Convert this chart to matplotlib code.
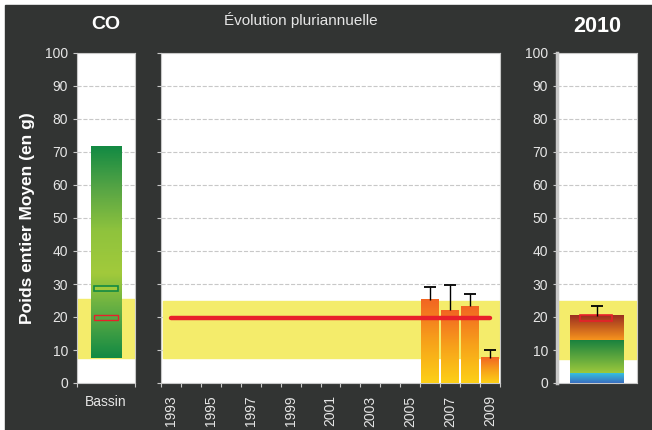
import numpy as np
import matplotlib.pyplot as plt
from matplotlib.colors import LinearSegmentedColormap
from matplotlib.patches import Rectangle

plt.rcParams['font.family'] = ['Liberation Sans', 'DejaVu Sans']

# donnees
annees = list(range(1993, 2010))
annees_bar = [2006, 2007, 2008, 2009]
moyenne = [25.2, 22.1, 23.3, 7.7]
err_haut = [29.0, 29.7, 26.9, 10.1]
ref_bassin = 19.7
bande = [7.5, 25.0]

bassin_min = 7.7
bassin_max = 71.8
bassin_vert = 28.7
bassin_rouge = 19.8

stack_2010 = [2.9, 10.1, 7.3]
err_2010 = 23.3
bande_2010 = [7.4, 24.8]

fond = '#323433'
txt = '#e6e6e6'
jaune = '#f4ec6b'


def grad_bar(ax, x, w, y0, y1, colors):
    cmap = LinearSegmentedColormap.from_list('g', colors)
    img = np.linspace(0, 1, 200).reshape(-1, 1)
    ax.imshow(img, cmap=cmap, extent=(x - w / 2, x + w / 2, y0, y1),
              origin='lower', aspect='auto', zorder=3, interpolation='bilinear')


def err_up(ax, xs, y0, y1):
    # seulement la moustache du haut
    ax.vlines(xs, y0, y1, color='black', lw=1, zorder=5)
    ax.plot(xs, y1, ls='none', marker='_', ms=8, mew=1.3, color='black', zorder=5)


def style(ax):
    ax.set_facecolor('white')
    ax.set_ylim(0, 100)
    ax.set_yticks(range(0, 101, 10))
    for v in range(10, 100, 10):
        ax.axhline(v, ls='--', color='#c8c8c8', lw=0.8, zorder=0)
    ax.tick_params(colors='#c8c8c8', labelcolor=txt, labelsize=10, length=3)
    for s in ax.spines.values():
        s.set_color('#c8c8c8')


fig = plt.figure(figsize=(6.52, 4.30), dpi=100, facecolor='white')
fig.patches.append(Rectangle((5 / 652, 0), 1, 1 - 5 / 430, transform=fig.transFigure,
                             color=fond, zorder=-10))

# panneau bassin
ax1 = fig.add_axes([77 / 652, 47 / 430, 58 / 652, 330 / 430])
style(ax1)
ax1.axhspan(bassin_min, 25.5, color=jaune, zorder=1)
grad_bar(ax1, 0, 0.52, bassin_min, bassin_max,
         ['#138a43', '#5aaa44', '#a2ca3b', '#8fc33d', '#57a545', '#138a43'])
ax1.add_patch(Rectangle((-0.2, bassin_vert - 0.8), 0.4, 1.6, fc='#a2ca3b', ec='#138a43', lw=1.2, zorder=4))
ax1.add_patch(Rectangle((-0.2, bassin_rouge - 0.8), 0.4, 1.6, fc='none', ec='#e8202a', lw=1, zorder=4))
ax1.set_xlim(-0.5, 0.5)
ax1.set_xticks([-0.5, 0.5])
ax1.set_xticklabels([])
ax1.set_xticks([0], minor=True)
ax1.set_xticklabels(['Bassin'], minor=True)
ax1.tick_params(axis='x', which='minor', length=0, pad=9, labelcolor=txt, labelsize=10)
ax1.set_ylabel('Poids entier Moyen (en g)', color='white', fontsize=12.5, fontweight='bold', labelpad=7)
ax1.set_title('CO', color='white', fontsize=14, fontweight='bold', pad=17)

# evolution pluriannuelle
ax2 = fig.add_axes([161 / 652, 47 / 430, 339 / 652, 330 / 430])
style(ax2)
ax2.axhspan(bande[0], bande[1], xmin=0.005, color=jaune, zorder=1)
idx = [annees.index(a) for a in annees_bar]
for i, v in zip(idx, moyenne):
    grad_bar(ax2, i, 0.9, 0, v, ['#fdd017', '#f7a11a', '#f26522'])
err_up(ax2, idx, moyenne, err_haut)
ax2.plot([0, len(annees) - 1], [ref_bassin, ref_bassin], color='#e8202a', lw=3.2,
         solid_capstyle='round', zorder=6)
ax2.set_xlim(-0.5, len(annees) - 0.5)
ax2.set_xticks(np.arange(-0.5, len(annees), 1))
ax2.set_xticklabels([])
ax2.set_xticks(range(0, len(annees), 2), minor=True)
ax2.set_xticklabels([str(a) for a in annees[::2]], minor=True, rotation=90)
ax2.tick_params(axis='x', which='minor', length=0, pad=9, labelcolor=txt, labelsize=10)
ax2.set_yticklabels([])
fig.text(301 / 652, 1 - 20 / 430, 'Évolution pluriannuelle', color=txt, fontsize=11,
         ha='center', va='center')

# 2010
ax3 = fig.add_axes([557 / 652, 47 / 430, 80 / 652, 330 / 430])
style(ax3)
ax3.spines['left'].set_linewidth(2.5)
ax3.axhspan(bande_2010[0], bande_2010[1], color=jaune, zorder=1)
b0 = 0
couleurs = [['#3a6fc0', '#36c0e0'], ['#9cc83c', '#16803f'], ['#f7941d', '#9b2e20']]
for h, c in zip(stack_2010, couleurs):
    grad_bar(ax3, 0, 0.675, b0, b0 + h, c)
    b0 += h
ax3.add_patch(Rectangle((-0.21, 18.7), 0.4, 1.9, fc='none', ec='#e8202a', lw=1.2, zorder=4))
err_up(ax3, [0], [b0], [err_2010])
ax3.set_xlim(-0.5, 0.5)
ax3.set_xticks([])
ax3.set_title('2010', color='white', fontsize=15.5, fontweight='bold', pad=15)

plt.savefig('out.png', dpi=100, facecolor=fig.get_facecolor())
